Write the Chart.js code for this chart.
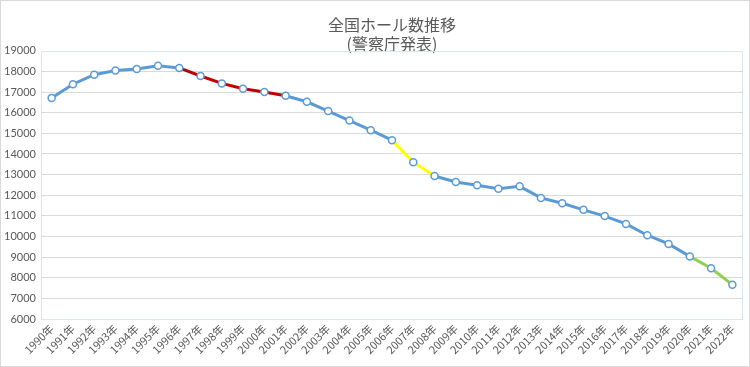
<!DOCTYPE html>
<html><head><meta charset="utf-8">
<script src="https://cdn.jsdelivr.net/npm/chart.js@4/dist/chart.umd.min.js"></script>
<style>html,body{margin:0;padding:0;background:#fff;}#wrap{width:750px;height:367px;position:relative;}</style>
</head><body>
<div id="wrap"><canvas id="c" width="750" height="367"></canvas></div>
<script>
const years = ["1990年","1991年","1992年","1993年","1994年","1995年","1996年","1997年","1998年","1999年","2000年","2001年","2002年","2003年","2004年","2005年","2006年","2007年","2008年","2009年","2010年","2011年","2012年","2013年","2014年","2015年","2016年","2017年","2018年","2019年","2020年","2021年","2022年"];
const halls = [16710,17380,17840,18040,18120,18270,18170,17780,17420,17160,17000,16820,16530,16080,15620,15150,14670,13600,12930,12640,12480,12310,12430,11870,11610,11290,10990,10610,10060,9640,9035,8460,7665];
const titleLines = ["全国ホール数推移","(警察庁発表)"];
const yMin = 6000, yMax = 19000, yStep = 1000;

const BLUE = "#5B9BD5", RED = "#C00000", YELLOW = "#FFFF00", GREEN = "#92D050";
function segColor(i){
  if (i >= 6 && i <= 10) return RED;
  if (i >= 16 && i <= 17) return YELLOW;
  if (i >= 30 && i <= 31) return GREEN;
  return BLUE;
}

const frame = {
  id: "frame",
  beforeDraw(chart){
    const c = chart.ctx;
    c.save();
    c.fillStyle = "#fff";
    c.fillRect(0,0,chart.width,chart.height);
    c.restore();
  },
  afterDraw(chart){
    const c = chart.ctx;
    c.save();
    c.strokeStyle = "#D9D9D9"; c.lineWidth = 1;
    c.strokeRect(0.5,0.5,chart.width-1,chart.height-1);
    c.restore();
  },
  beforeDatasetsDraw(chart){
    const c = chart.ctx, a = chart.chartArea;
    c.save();
    c.strokeStyle = "#DCE6F2"; c.lineWidth = 1;
    c.strokeRect(Math.round(a.left)+0.5, Math.round(a.top)+0.5, Math.round(a.right-a.left)-1, Math.round(a.bottom-a.top));
    c.restore();
  }
};

new Chart(document.getElementById("c"), {
  type: "line",
  data: {
    labels: years,
    datasets: [{
      data: halls,
      borderColor: BLUE,
      borderWidth: 3,
      tension: 0,
      pointRadius: 3.5,
      pointHoverRadius: 3.5,
      pointBorderWidth: 1.5,
      pointBorderColor: BLUE,
      pointBackgroundColor: "#fff",
      segment: { borderColor: ctx => segColor(ctx.p0DataIndex) }
    }]
  },
  options: {
    responsive: false,
    animation: false,
    layout: { padding: { left: 0, right: 7, top: 0, bottom: 0 } },
    plugins: {
      legend: { display: false },
      tooltip: { enabled: false },
      title: {
        display: true,
        text: titleLines,
        fullSize: false,
        color: "#595959",
        font: { family: "'Noto Sans CJK JP'", size: 16, weight: "normal", lineHeight: 1.15 },
        padding: { top: 16, bottom: -2 }
      }
    },
    scales: {
      x: {
        offset: true,
        grid: { display: false, drawTicks: false },
        border: { display: false },
        ticks: {
          color: "#595959", autoSkip: false, minRotation: 45, maxRotation: 45, padding: 3,
          font: { family: "'Noto Sans CJK JP'", size: 11 }
        },
        afterFit: s => { s.height = 48; }
      },
      y: {
        min: yMin, max: yMax,
        grid: { color: ctx => (ctx.tick && (ctx.tick.value === yMin || ctx.tick.value === yMax)) ? "rgba(0,0,0,0)" : "#D9D9D9", drawTicks: false, lineWidth: 1 },
        border: { display: false },
        ticks: {
          stepSize: yStep, color: "#595959", padding: 5,
          callback: v => String(v),
          font: { family: "Lato, 'Open Sans', sans-serif", size: 11 }
        },
        afterFit: s => { s.width = 41; }
      }
    }
  },
  plugins: [frame]
});
</script>
</body></html>
